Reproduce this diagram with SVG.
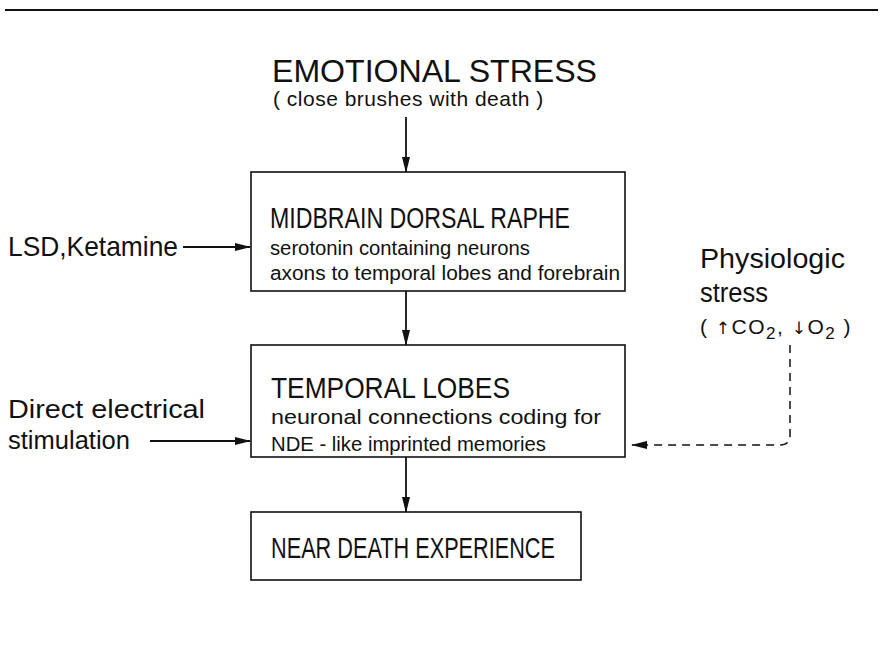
<svg xmlns="http://www.w3.org/2000/svg" width="882" height="651" viewBox="0 0 882 651">
<style>
text{font-family:"Liberation Sans",Arial,sans-serif;fill:#111}
.big{font-size:30px}
.sm{font-size:20px}
.box{fill:none;stroke:#111;stroke-width:1.6}
.ln{stroke:#111;stroke-width:1.8;fill:none}
.dash{stroke:#111;stroke-width:1.5;fill:none;stroke-dasharray:8 6}
.ar{font-family:"DejaVu Sans",sans-serif;font-size:17px}
</style>
<defs>
<marker id="ah" markerWidth="16" markerHeight="8" refX="15" refY="4" orient="auto" markerUnits="userSpaceOnUse">
<path d="M0,0 L16,4 L0,8 Z" fill="#111"/>
</marker>
</defs>
<rect width="882" height="651" fill="#fff"/>
<line x1="5" y1="10" x2="878" y2="10" stroke="#111" stroke-width="2"/>
<g id="emotional">
<text x="272" y="82" style="font-size:32px" textLength="325" lengthAdjust="spacingAndGlyphs">EMOTIONAL STRESS</text>
<text x="273" y="106" style="font-size:21px;letter-spacing:0.5px">( close brushes with death )</text>
</g>
<g id="midbrain">
<rect class="box" x="251" y="172" width="374" height="119"/>
<text class="big" x="270" y="228" textLength="300" lengthAdjust="spacingAndGlyphs">MIDBRAIN DORSAL RAPHE</text>
<text class="sm" x="270" y="255" textLength="260" lengthAdjust="spacingAndGlyphs">serotonin containing neurons</text>
<text class="sm" x="270" y="280" textLength="350" lengthAdjust="spacingAndGlyphs">axons to temporal lobes and forebrain</text>
</g>
<g id="lsd">
<text x="8" y="256" style="font-size:28px" textLength="170" lengthAdjust="spacingAndGlyphs">LSD,Ketamine</text>
</g>
<g id="temporal">
<rect class="box" x="251" y="345" width="374" height="112"/>
<text class="big" x="271" y="398" textLength="239" lengthAdjust="spacingAndGlyphs">TEMPORAL LOBES</text>
<text class="sm" x="271" y="424" textLength="330" lengthAdjust="spacingAndGlyphs">neuronal connections coding for</text>
<text class="sm" x="271" y="451" textLength="275" lengthAdjust="spacingAndGlyphs">NDE - like imprinted memories</text>
</g>
<g id="direct">
<text x="8" y="418" style="font-size:25px" textLength="197" lengthAdjust="spacingAndGlyphs">Direct electrical</text>
<text x="8" y="449" style="font-size:25px" textLength="122" lengthAdjust="spacingAndGlyphs">stimulation</text>
</g>
<g id="physio">
<text x="700" y="268" style="font-size:27px" textLength="145" lengthAdjust="spacingAndGlyphs">Physiologic</text>
<text x="700" y="302" style="font-size:27px" textLength="68" lengthAdjust="spacingAndGlyphs">stress</text>
<text x="700" y="334" style="font-size:21px;letter-spacing:1.5px">( <tspan class="ar">↑</tspan>CO<tspan dy="5" style="font-size:17px">2</tspan><tspan dy="-5">, </tspan><tspan class="ar">↓</tspan>O<tspan dy="5" style="font-size:17px">2</tspan><tspan dy="-5"> )</tspan></text>
</g>
<g id="nde">
<rect class="box" x="251" y="512" width="330" height="68"/>
<text class="big" x="271" y="558" textLength="284" lengthAdjust="spacingAndGlyphs">NEAR DEATH EXPERIENCE</text>
</g>
<g id="connectors">
<line class="ln" x1="406" y1="117" x2="406" y2="172" marker-end="url(#ah)"/>
<line class="ln" x1="406" y1="291" x2="406" y2="345" marker-end="url(#ah)"/>
<line class="ln" x1="406" y1="457" x2="406" y2="512" marker-end="url(#ah)"/>
<line class="ln" x1="183" y1="247" x2="250" y2="247" marker-end="url(#ah)"/>
<line class="ln" x1="150" y1="441" x2="250" y2="441" marker-end="url(#ah)"/>
<path class="dash" d="M790,345 L790,435 Q790,445 780,445 L632,445" marker-end="url(#ah)"/>
</g>
</svg>
